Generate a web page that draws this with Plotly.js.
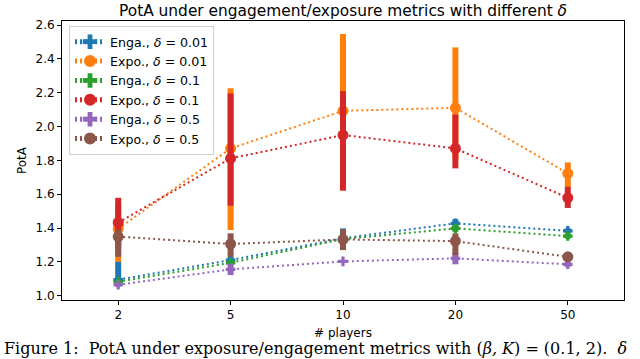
<!DOCTYPE html>
<html>
<head>
<meta charset="utf-8">
<script src="https://cdn.plot.ly/plotly-3.0.1.min.js"></script>
<style>
html, body { margin: 0; padding: 0; background: #fff; }
#chart { width: 640px; height: 359px; }
</style>
</head>
<body>
<div id="chart"></div>
<script>
// Category labels (# players)
var players = ['2', '5', '10', '20', '50'];

// Series names
var seriesNames = [
  'Enga., <i>δ</i> = 0.01',
  'Expo., <i>δ</i> = 0.01',
  'Enga., <i>δ</i> = 0.1',
  'Expo., <i>δ</i> = 0.1',
  'Enga., <i>δ</i> = 0.5',
  'Expo., <i>δ</i> = 0.5'
];

// Central values
var engaD001 = [1.095, 1.211, 1.340, 1.428, 1.384];
var expoD001 = [1.396, 1.871, 2.093, 2.111, 1.723];
var engaD01  = [1.083, 1.195, 1.335, 1.398, 1.353];
var expoD01  = [1.433, 1.812, 1.950, 1.871, 1.579];
var engaD05  = [1.065, 1.156, 1.203, 1.221, 1.186];
var expoD05  = [1.350, 1.306, 1.333, 1.323, 1.230];

// Error bar extents (upper / lower)
var engaD001Up = [0.110, 0.020, 0.058, 0.025, 0.015];
var engaD001Dn = [0.040, 0.020, 0.060, 0.025, 0.015];
var expoD001Up = [0.150, 0.355, 0.454, 0.357, 0.065];
var expoD001Dn = [0.196, 0.483, 0.400, 0.300, 0.080];
var engaD01Up  = [0.010, 0.015, 0.020, 0.020, 0.015];
var engaD01Dn  = [0.010, 0.015, 0.020, 0.020, 0.015];
var expoD01Up  = [0.146, 0.384, 0.260, 0.200, 0.065];
var expoD01Dn  = [0.150, 0.280, 0.329, 0.118, 0.060];
var engaD05Up  = [0.012, 0.034, 0.005, 0.035, 0.015];
var engaD05Dn  = [0.012, 0.034, 0.005, 0.035, 0.015];
var expoD05Up  = [0.040, 0.063, 0.060, 0.046, 0.010];
var expoD05Dn  = [0.120, 0.076, 0.063, 0.083, 0.010];

// Caption text below the figure
var captionText = 'Figure 1: &nbsp;PotA under exposure/engagement metrics with (<i>β, K</i>) = (0.1, 2). &nbsp;<i>δ</i>';

var colors = ['#1f77b4', '#ff7f0e', '#2ca02c', '#d62728', '#9467bd', '#8c564b'];

var values = [engaD001, expoD001, engaD01, expoD01, engaD05, expoD05];
var ups = [engaD001Up, expoD001Up, engaD01Up, expoD01Up, engaD05Up, expoD05Up];
var dns = [engaD001Dn, expoD001Dn, engaD01Dn, expoD01Dn, engaD05Dn, expoD05Dn];

var traces = values.map(function (v, i) {
  var isExpo = (i % 2 === 1);
  return {
    type: 'scatter',
    mode: 'lines+markers',
    x: players,
    y: v,
    name: seriesNames[i],
    line: { color: colors[i], width: 2, dash: '2px,3px' },
    marker: {
      color: colors[i],
      symbol: isExpo ? 'circle' : 'cross',
      size: isExpo ? 11 : 8,
      line: { width: 0 }
    },
    error_y: {
      type: 'data',
      symmetric: false,
      array: ups[i],
      arrayminus: dns[i],
      color: colors[i],
      thickness: 6,
      width: 0
    }
  };
});

var axisFont = { family: 'DejaVu Sans', size: 12, color: '#000' };

var layout = {
  width: 640,
  height: 359,
  margin: { l: 62, r: 16, t: 21, b: 59 },
  paper_bgcolor: '#fff',
  plot_bgcolor: '#fff',
  font: axisFont,
  showlegend: true,
  title: {
    text: 'PotA under engagement/exposure metrics with different <i>δ</i>',
    font: { family: 'DejaVu Sans', size: 15.4, color: '#000' },
    x: 0.5,
    xref: 'paper',
    xanchor: 'center',
    y: 1 - 11 / 359,
    yref: 'container',
    yanchor: 'middle'
  },
  xaxis: {
    type: 'category',
    range: [-0.5, 4.5],
    showline: true,
    linecolor: '#000',
    linewidth: 1,
    mirror: true,
    ticks: 'outside',
    ticklen: 4,
    tickwidth: 1,
    tickcolor: '#000',
    showgrid: false,
    zeroline: false,
    tickfont: axisFont,
    title: { text: '# players', font: axisFont, standoff: 7 }
  },
  yaxis: {
    range: [0.975, 2.624],
    tickvals: [1.0, 1.2, 1.4, 1.6, 1.8, 2.0, 2.2, 2.4, 2.6],
    ticktext: ['1.0', '1.2', '1.4', '1.6', '1.8', '2.0', '2.2', '2.4', '2.6'],
    showline: true,
    linecolor: '#000',
    linewidth: 1,
    mirror: true,
    ticks: 'outside',
    ticklen: 4,
    tickwidth: 1,
    tickcolor: '#000',
    showgrid: false,
    zeroline: false,
    tickfont: axisFont,
    title: { text: 'PotA', font: axisFont, standoff: 6 }
  },
  legend: {
    x: (69 - 62) / 562,
    y: 1 - (26 - 21) / 279,
    xanchor: 'left',
    yanchor: 'top',
    bgcolor: 'rgba(255,255,255,0.8)',
    bordercolor: '#d0d0d0',
    borderwidth: 1,
    font: { family: 'DejaVu Sans', size: 12.6, color: '#000' },
    itemsizing: 'constant',
    tracegroupgap: 0
  },
  annotations: [{
    text: captionText,
    xref: 'paper',
    yref: 'paper',
    x: (2 - 62) / 562,
    y: -(337 - 300) / 279,
    xanchor: 'left',
    yanchor: 'top',
    showarrow: false,
    font: { family: 'DejaVu Serif', size: 16, color: '#000' }
  }]
};

Plotly.newPlot('chart', traces, layout, { displayModeBar: false, staticPlot: true });
</script>
</body>
</html>
